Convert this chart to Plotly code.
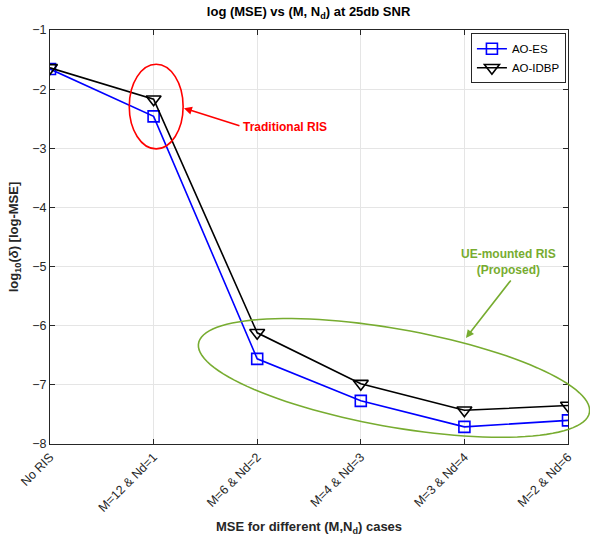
import numpy as np
import plotly.graph_objects as go

categories = ["No RIS", "M=12 & Nd=1", "M=6 & Nd=2", "M=4 & Nd=3", "M=3 & Nd=4", "M=2 & Nd=6"]
ao_es = [-1.66, -2.46, -6.56, -7.27, -7.71, -7.60]
ao_idbp = [-1.64, -2.17, -6.12, -6.98, -7.43, -7.35]
y_ticks = [-1, -2, -3, -4, -5, -6, -7, -8]

FONT = "Liberation Sans, Arial, sans-serif"
AX = "#262626"

fig = go.Figure()
fig.add_trace(go.Scatter(
    x=categories, y=ao_es, name="AO-ES", mode="lines+markers",
    line=dict(color="#0000ff", width=1.6),
    marker=dict(symbol="square-open", size=11, color="#0000ff", line=dict(width=1.6)),
))
fig.add_trace(go.Scatter(
    x=categories, y=ao_idbp, name="AO-IDBP", mode="lines+markers",
    line=dict(color="#000000", width=1.6),
    marker=dict(symbol="triangle-down-open", size=13, color="#000000", line=dict(width=1.6)),
))

# plot area geometry (pixels) for paper-referenced ellipse
L, T, W, H = 50, 29.6, 518, 414
FIG_W, FIG_H = 590, 541

# green rotated ellipse, in pixel space then mapped to paper
cx, cy, a, b, th = 394, 377.5, 198.5, 49, np.deg2rad(10.05)
t = np.linspace(0, 2 * np.pi, 120)
px = cx + a * np.cos(t) * np.cos(th) - b * np.sin(t) * np.sin(th)
py = cy + a * np.cos(t) * np.sin(th) + b * np.sin(t) * np.cos(th)
xp = (px - L) / W
yp = (T + H - py) / H
path = "M " + " L ".join(f"{x:.5f},{y:.5f}" for x, y in zip(xp, yp)) + " Z"
fig.add_shape(type="path", path=path, xref="paper", yref="paper",
              line=dict(color="#77AC30", width=1.6))

# red ellipse around traditional RIS
fig.add_shape(type="circle", xref="x", yref="y", x0=0.765, x1=1.285, y0=-3.01, y1=-1.58,
              line=dict(color="#ff0000", width=1.6))

# arrows
fig.add_annotation(x=1.293, y=-2.322, xref="x", yref="y", ax=57, ay=18, text="",
                   showarrow=True, arrowhead=2, arrowsize=1, arrowwidth=1.6, arrowcolor="#ff0000")
fig.add_annotation(x=1.84, y=-2.64, xref="x", yref="y", text="<b>Traditional RIS</b>",
                   showarrow=False, xanchor="left", font=dict(family=FONT, size=12, color="#ff0000"))
fig.add_annotation(x=4.015, y=-6.206, xref="x", yref="y", ax=46, ay=-59, text="",
                   showarrow=True, arrowhead=2, arrowsize=1, arrowwidth=1.6, arrowcolor="#77AC30")
fig.add_annotation(x=4.43, y=-4.93, xref="x", yref="y", text="<b>UE-mounted RIS<br>(Proposed)</b>",
                   showarrow=False, xanchor="center", font=dict(family=FONT, size=12, color="#77AC30"))

fig.update_layout(
    width=FIG_W, height=FIG_H,
    margin=dict(l=L, r=FIG_W - L - W, t=T, b=FIG_H - T - H, autoexpand=False),
    paper_bgcolor="white", plot_bgcolor="white",
    font=dict(family=FONT, size=12, color=AX),
    title=dict(text="<b>log (MSE) vs (M, N<sub>d</sub>) at 25db SNR</b>", x=0.523, xanchor="center",
               y=0.978, yanchor="middle", font=dict(family=FONT, size=13, color="#000")),
    showlegend=True,
    legend=dict(x=0.996, y=0.992, xanchor="right", yanchor="top", bgcolor="white",
                bordercolor=AX, borderwidth=1, font=dict(family=FONT, size=11.5, color="#000"),
                tracegroupgap=0, itemwidth=30),
    xaxis=dict(type="category", categoryorder="array", categoryarray=categories,
               range=[0, 5], tickangle=-45, ticks="inside", ticklen=5, tickcolor=AX,
               showline=True, linecolor=AX, linewidth=1, mirror="ticks", automargin=False,
               showgrid=True, gridcolor="#e5e5e5", zeroline=False,
               tickfont=dict(family=FONT, size=12.5, color=AX),
               title=dict(text="<b>MSE for different (M,N<sub>d</sub>) cases</b>", standoff=8,
                          font=dict(family=FONT, size=13, color=AX))),
    yaxis=dict(range=[-8, -1], tickvals=y_ticks, ticks="inside", ticklen=5, tickcolor=AX,
               showline=True, linecolor=AX, linewidth=1, mirror="ticks", automargin=False,
               showgrid=True, gridcolor="#e5e5e5", zeroline=False,
               tickfont=dict(family=FONT, size=12.5, color=AX),
               title=dict(text="<b>log<sub>10</sub>(<i>δ</i>) [log-MSE]</b>", standoff=10,
                          font=dict(family=FONT, size=13, color=AX))),
)

fig.write_html("out.html", config={"displayModeBar": False},
               post_script="document.body.style.margin='0';document.body.style.overflow='hidden';")
